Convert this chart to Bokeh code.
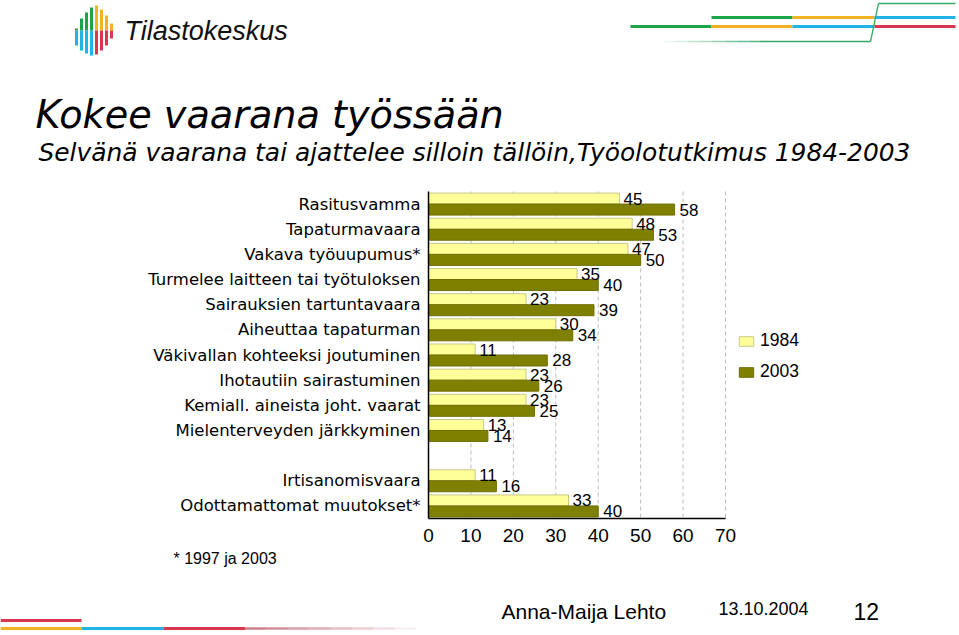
from bokeh.plotting import figure
from bokeh.models import Range1d, ColumnDataSource, Legend, LegendItem
from bokeh.transform import dodge
from bokeh.core.properties import value
from bokeh.embed import file_html
from bokeh.resources import INLINE

# ---------------- data ----------------
top_categories = [
    "Rasitusvamma",
    "Tapaturmavaara",
    "Vakava työuupumus*",
    "Turmelee laitteen tai työtuloksen",
    "Sairauksien tartuntavaara",
    "Aiheuttaa tapaturman",
    "Väkivallan kohteeksi joutuminen",
    "Ihotautiin sairastuminen",
    "Kemiall. aineista joht. vaarat",
    "Mielenterveyden järkkyminen",
]
top_1984 = [45, 48, 47, 35, 23, 30, 11, 23, 23, 13]
top_2003 = [58, 53, 50, 40, 39, 34, 28, 26, 25, 14]

bottom_categories = ["Irtisanomisvaara", "Odottamattomat muutokset*"]
bottom_1984 = [11, 33]
bottom_2003 = [16, 40]

series_names = ["1984", "2003"]
x_ticks = [0, 10, 20, 30, 40, 50, 60, 70]

title_text = "Kokee vaarana työssään"
subtitle_text = "Selvänä vaarana tai ajattelee silloin tällöin,Työolotutkimus 1984-2003"
footnote_text = "* 1997 ja 2003"
author_text = "Anna-Maija Lehto"
date_text = "13.10.2004"
page_text = "12"
logo_text = "Tilastokeskus"

# ---------------- page geometry (pixels) ----------------
W, H = 959, 635
FL, FR, FT, FB = 428, 725, 191, 518   # chart plotting area on the slide
XMAX = 70
YTOP, YBOT = -0.5, 12.5               # slot units of the category scale

slots = list(range(len(top_categories))) + [len(top_categories) + 1 + i for i in range(len(bottom_categories))]
cats = top_categories + bottom_categories
v84 = top_1984 + bottom_1984
v03 = top_2003 + bottom_2003

YELLOW = "#FFFF99"
OLIVE = "#808000"

# The whole slide is one plot whose frame is the page (page-pixel ranges);
# the chart uses its own value and category scales, mapped onto the chart area.
p = figure(width=W, height=H, output_backend="svg", toolbar_location=None,
           x_range=Range1d(0, W), y_range=Range1d(H, 0), min_border=0,
           x_axis_location=None, y_axis_location=None)
p.grid.visible = False
p.outline_line_color = None
p.background_fill_color = "white"
p.border_fill_color = "white"

ppx = (FR - FL) / XMAX                 # pixels per value unit
ppy = (FB - FT) / (YBOT - YTOP)        # pixels per slot
p.extra_x_ranges = {"val": Range1d(start=-FL / ppx, end=(W - FL) / ppx)}
p.extra_y_ranges = {"slot": Range1d(start=YTOP + (H - FT) / ppy, end=YTOP - FT / ppy)}

src = ColumnDataSource(dict(slot=slots, cat=cats, v84=v84, v03=v03, zero=[0] * len(slots),
                            t84=[str(v) for v in v84], t03=[str(v) for v in v03]))
yr = p.extra_y_ranges["slot"]
BH = 0.437

# grid lines (dashed) and axis lines on the chart scales
grid_x = x_ticks[1:]
p.segment(x0=grid_x, x1=grid_x, y0=[YTOP] * len(grid_x), y1=[YBOT] * len(grid_x),
          x_range_name="val", y_range_name="slot",
          line_color="#BDBDBD", line_width=1, line_dash="4 3")

r84 = p.hbar(y=dodge("slot", -0.2185, range=yr), left=0, right="v84", height=BH,
             x_range_name="val", y_range_name="slot",
             fill_color=YELLOW, line_color="#C8C88A", line_width=1, source=src)
r03 = p.hbar(y=dodge("slot", 0.2185, range=yr), left=0, right="v03", height=BH,
             x_range_name="val", y_range_name="slot",
             fill_color=OLIVE, line_color="#6E6E00", line_width=1, source=src)

p.segment(x0=[0, 0], x1=[0, XMAX], y0=[YTOP, YBOT], y1=[YBOT, YBOT],
          x_range_name="val", y_range_name="slot", line_color="black", line_width=1.5)

# value labels
p.text(x="v84", y=dodge("slot", -0.2185, range=yr), text="t84", source=src,
       x_range_name="val", y_range_name="slot",
       x_offset=4, text_baseline="middle", text_align="left",
       text_font=value("Liberation Sans"), text_font_size="17px", text_color="black")
p.text(x="v03", y=dodge("slot", 0.2185, range=yr), text="t03", source=src,
       x_range_name="val", y_range_name="slot",
       x_offset=5, text_baseline="middle", text_align="left",
       text_font=value("Liberation Sans"), text_font_size="17px", text_color="black")

# category labels (left of the value axis)
p.text(x="zero", y="slot", text="cat", source=src, x_range_name="val", y_range_name="slot",
       x_offset=-8, text_baseline="middle", text_align="right",
       text_font=value("DejaVu Sans"), text_font_size="16.5px", text_color="black")

# value-axis tick labels
p.text(x=x_ticks, y=[535] * len(x_ticks), text=[str(t) for t in x_ticks], x_range_name="val",
       text_baseline="middle", text_align="center",
       text_font=value("Liberation Sans"), text_font_size="19px", text_color="black")

legend = Legend(items=[LegendItem(label=series_names[0], renderers=[r84]),
                       LegendItem(label=series_names[1], renderers=[r03])],
                location=(737, H - 382), border_line_color=None, background_fill_alpha=0,
                padding=0, margin=0, glyph_width=18, glyph_height=12, label_standoff=5,
                spacing=10, label_text_font="Liberation Sans", label_text_font_size="17.5px",
                label_text_color="black")
p.add_layout(legend)


# ---------------- slide texts ----------------
def put_text(txt, x, y, font, size, style="normal", color="black"):
    p.text(x=[x], y=[y], text=[txt], text_font=value(font), text_font_size=size,
           text_font_style=style, text_baseline="middle", text_align="left", text_color=color)


put_text(logo_text, 124, 30, "Liberation Sans", "27px", "italic", "#111111")
put_text(title_text, 35, 114, "DejaVu Sans", "38.2px", "italic")
put_text(subtitle_text, 38, 152, "DejaVu Sans", "24.9px", "italic")
put_text(footnote_text, 173, 558, "Liberation Sans", "16px")
put_text(author_text, 501, 611, "Liberation Sans", "21px")
put_text(date_text, 718, 608, "Liberation Sans", "18px")
put_text(page_text, 853, 611, "Liberation Sans", "23px")

# ---------------- slide decorations ----------------
GREEN, GOLD, BLUE, RED = "#1BA548", "#F0B323", "#1EB4E6", "#D9364F"
THIN = "#3BA86B"
decor = [
    (711, 17, 792, 17, GREEN, 3, 1), (792, 17, 874, 17, GOLD, 3, 1), (874, 17, 955, 17, BLUE, 3, 1),
    (630, 26, 711, 26, GREEN, 3, 1), (711, 26, 792, 26, GOLD, 3, 1), (792, 26, 874, 26, BLUE, 3, 1),
    (874, 26, 955, 26, RED, 3, 1),
    (760, 41, 870, 41, THIN, 1.3, 1), (870, 41, 878, 3, THIN, 1.3, 1), (878, 3, 955, 3, THIN, 1.3, 1),
    (0, 620, 81, 620, RED, 3, 1),
    (0, 628, 81, 628, GOLD, 3, 1), (81, 628, 163, 628, BLUE, 3, 1), (163, 628, 245, 628, RED, 3, 1),
]
for i in range(8):
    decor.append((663 + i * 12.2, 41, 663 + (i + 1) * 12.2, 41, THIN, 1.3, 0.1 + 0.11 * i))
    decor.append((245 + i * 21.3, 628, 245 + (i + 1) * 21.3, 628, "#C0606E", 2.5,
                  max(0.05, 0.8 - 0.1 * i)))

logo_x = [76, 81, 86, 91, 96, 101, 106, 111]
logo_top = [28, 18, 12, 7, 5, 9, 15, 23]
logo_bot = [45, 50, 53, 55, 54, 50, 45, 38]
for k, (lx, t, b) in enumerate(zip(logo_x, logo_top, logo_bot)):
    decor.append((lx, t, lx, 30, GREEN if k < 4 else GOLD, 3, 1))
    decor.append((lx, 30, lx, b, BLUE if k < 4 else RED, 3, 1))

p.segment(x0=[s[0] for s in decor], y0=[s[1] for s in decor],
          x1=[s[2] for s in decor], y1=[s[3] for s in decor],
          line_color=[s[4] for s in decor], line_width=[s[5] for s in decor],
          line_alpha=[s[6] for s in decor], line_cap="butt")

open("out.html", "w").write(file_html(p, INLINE))
